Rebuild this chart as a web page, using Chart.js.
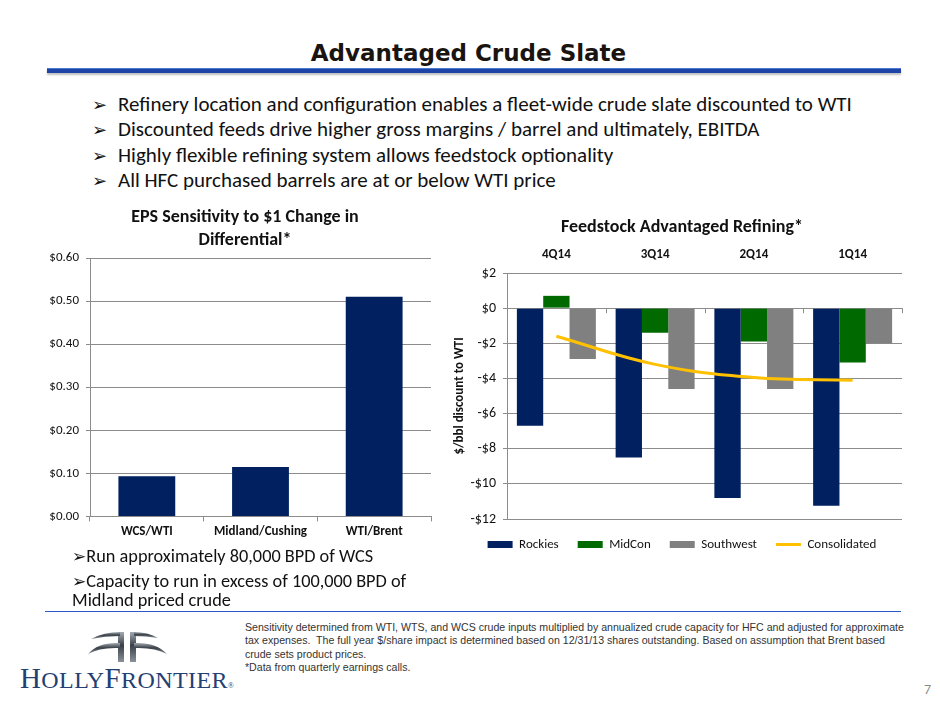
<!DOCTYPE html>
<html>
<head>
<meta charset="utf-8">
<script src="https://cdn.jsdelivr.net/npm/chart.js@4.4.1/dist/chart.umd.min.js"></script>
<style>
  body { margin: 0; background: #fff; }
  #page { position: relative; width: 940px; height: 705px; overflow: hidden; font-family: Carlito, Calibri, Lato, sans-serif; color: #111; }
  .abs { position: absolute; }
  #title { left: 0; width: 937px; top: 40px; text-align: center; font-family: "DejaVu Sans", Verdana, sans-serif; font-size: 23px; font-weight: bold; color: #1a1410; }
  #rule { left: 47px; top: 68px; width: 854px; height: 4px; background: #1d44a6; border-top: 1px solid #4a78d2; box-shadow: 0 2px 2px rgba(0,0,0,0.25); }
  .bul { left: 92px; font-size: 21px; white-space: nowrap; }
  .bul .ar { font-family: "DejaVu Sans"; font-size: 18px; display: inline-block; width: 26px; }
  .lb { left: 72px; font-size: 18.3px; white-space: nowrap; }
  .lb .ar { font-family: "DejaVu Sans"; font-size: 17px; }
  #foot { left: 45px; top: 611px; width: 856px; height: 1px; background: #2b59c8; }
  #note { left: 245px; top: 621px; width: 662px; font-family: "Liberation Sans", Arial, sans-serif; font-size: 10.6px; line-height: 13.4px; color: #333; }
  #brand { left: 20px; top: 664px; line-height: 29px; font-family: "Liberation Serif", "DejaVu Serif", serif; font-size: 29px; letter-spacing: 0.4px; color: #233f73; white-space: nowrap; }
  #brand .sc { font-size: 24px; }
  #brand .r { font-size: 8px; }
  #pg { left: 924px; top: 681px; font-size: 14px; color: #888; }
  canvas { position: absolute; }
</style>
</head>
<body>
<div id="page">
  <div id="title" class="abs">Advantaged Crude Slate</div>
  <div id="rule" class="abs"></div>

  <div class="abs bul" style="top:91px"><span class="ar">➢</span>Refinery location and configuration enables a fleet-wide crude slate discounted to WTI</div>
  <div class="abs bul" style="top:116px"><span class="ar">➢</span>Discounted feeds drive higher gross margins / barrel and ultimately, EBITDA</div>
  <div class="abs bul" style="top:142px"><span class="ar">➢</span>Highly flexible refining system allows feedstock optionality</div>
  <div class="abs bul" style="top:167px"><span class="ar">➢</span>All HFC purchased barrels are at or below WTI price</div>

  <div id="leftBox" class="abs" style="left:30px; top:195px; width:430px; height:352px;"><canvas id="epsChart"></canvas></div>
  <div id="rightBox" class="abs" style="left:450px; top:195px; width:460px; height:370px;"><canvas id="feedChart"></canvas></div>

  <div class="abs lb" style="top:545px"><span class="ar">➢</span>Run approximately 80,000 BPD of WCS</div>
  <div class="abs lb" style="top:570px"><span class="ar">➢</span>Capacity to run in excess of 100,000 BPD of</div>
  <div class="abs lb" style="top:589px">Midland priced crude</div>

  <div id="foot" class="abs"></div>
  <div id="note" class="abs">Sensitivity determined from WTI, WTS, and WCS crude inputs multiplied by annualized crude capacity for HFC and adjusted for approximate tax expenses.&nbsp; The full year $/share impact is determined based on 12/31/13 shares outstanding. Based on assumption that Brent based crude sets product prices.<br>*Data from quarterly earnings calls.</div>

  <svg class="abs" style="left:80px; top:628px" width="90" height="36" viewBox="0 0 90 36">
    <defs>
      <linearGradient id="metal" x1="0" y1="0" x2="0" y2="1">
        <stop offset="0" stop-color="#a4abb2"/>
        <stop offset="0.45" stop-color="#3a4048"/>
        <stop offset="1" stop-color="#8a9198"/>
      </linearGradient>
    </defs>
    <rect x="38" y="4" width="6" height="30" fill="url(#metal)"/>
    <rect x="50" y="4" width="6" height="30" fill="url(#metal)"/>
    <path d="M11 11 Q24 4 40 4 L40 8 Q25 8 11 11 Z" fill="url(#metal)"/>
    <path d="M54 4 Q68 4 78 10 Q66 8 54 8 Z" fill="url(#metal)"/>
    <path d="M8 26 Q18 14 40 15 L40 20 Q20 19 8 26 Z" fill="url(#metal)"/>
    <path d="M54 15 Q76 14 87 26 Q74 19 54 20 Z" fill="url(#metal)"/>
  </svg>
  <div id="brand" class="abs">H<span class="sc">OLLY</span>F<span class="sc">RONTIER</span><span class="r">®</span></div>
  <div id="pg" class="abs">7</div>
</div>

<script>
// --- EPS 敏感度 (left chart) ---
const epsCategories = ['WCS/WTI', 'Midland/Cushing', 'WTI/Brent'];
const epsValues = [0.093, 0.115, 0.51];

// --- Feedstock advantaged refining (right chart) ---
const quarters = ['4Q14', '3Q14', '2Q14', '1Q14'];
const rockies = [-6.7, -8.5, -10.8, -11.25];
const midcon = [0.7, -1.4, -1.9, -3.1];
const southwest = [-2.9, -4.6, -4.6, -2.0];
const consolidated = [-1.6, -3.2, -3.95, -4.1];

const FONT = 'Carlito, Calibri, Lato, sans-serif';
const GRID = '#8c8c8c';

Chart.defaults.font.family = FONT;
Chart.defaults.color = '#111';
Chart.defaults.animation = false;

new Chart(document.getElementById('epsChart'), {
  type: 'bar',
  data: {
    labels: epsCategories,
    datasets: [{
      label: 'EPS',
      data: epsValues,
      backgroundColor: '#002060',
      categoryPercentage: 0.5,
      barPercentage: 1.0
    }]
  },
  options: {
    responsive: true,
    maintainAspectRatio: false,
    layout: { padding: { left: 0, right: 0, top: 0, bottom: 4 } },
    plugins: {
      legend: { display: false },
      tooltip: { enabled: false },
      title: {
        display: true,
        text: ['EPS Sensitivity to $1 Change in', 'Differential*'],
        font: { size: 18, weight: 'bold', lineHeight: 1.28 },
        color: '#111',
        padding: { top: 11, bottom: 6 }
      }
    },
    scales: {
      x: {
        grid: { display: true, drawOnChartArea: false, tickLength: 5, color: GRID, offset: true },
        border: { color: GRID, width: 1 },
        ticks: { font: { size: 13, weight: 'bold' }, color: '#111', padding: 3 }
      },
      y: {
        min: 0, max: 0.6,
        afterFit: (s) => { s.width = 60; },
        grid: { color: GRID, tickLength: 4 },
        border: { color: GRID, width: 1 },
        ticks: {
          stepSize: 0.1,
          font: { size: 13 },
          color: '#111',
          padding: 7,
          callback: (v) => '$' + Number(v).toFixed(2)
        }
      },
      // 右側空白軸：只佔位，讓標題置中於整張畫布
      spacer: {
        position: 'right',
        afterFit: (s) => { s.width = 29; },
        grid: { display: false },
        border: { display: false },
        ticks: { display: false }
      }
    }
  }
});

// 零線上的刻度 (tick marks on the $0 line)
const zeroTicks = {
  id: 'zeroTicks',
  afterDatasetsDraw(chart) {
    const x = chart.scales.x, y = chart.scales.y;
    const y0 = y.getPixelForValue(0);
    const ctx = chart.ctx;
    ctx.save();
    ctx.strokeStyle = GRID;
    ctx.lineWidth = 1;
    for (let i = 0; i <= quarters.length; i++) {
      let px;
      if (i === 0) px = x.left;
      else if (i === quarters.length) px = x.right;
      else px = (x.getPixelForValue(i - 1) + x.getPixelForValue(i)) / 2;
      ctx.beginPath();
      ctx.moveTo(Math.round(px) + 0.5, y0);
      ctx.lineTo(Math.round(px) + 0.5, y0 + 5);
      ctx.stroke();
    }
    ctx.restore();
  }
};

new Chart(document.getElementById('feedChart'), {
  type: 'bar',
  data: {
    labels: quarters,
    datasets: [
      { label: 'Rockies', data: rockies, backgroundColor: '#002060', pointStyle: 'rect' },
      { label: 'MidCon', data: midcon, backgroundColor: '#006a00', pointStyle: 'rect' },
      { label: 'Southwest', data: southwest, backgroundColor: '#808080', pointStyle: 'rect' },
      {
        type: 'line', label: 'Consolidated', data: consolidated,
        borderColor: '#ffc000', backgroundColor: '#ffc000', borderWidth: 3,
        tension: 0.4, pointRadius: 0, pointStyle: 'line', order: -1
      }
    ]
  },
  options: {
    responsive: true,
    maintainAspectRatio: false,
    datasets: { bar: { categoryPercentage: 0.8, barPercentage: 1.0 } },
    layout: { padding: { left: 12, right: 8, top: 0, bottom: 4 } },
    plugins: {
      tooltip: { enabled: false },
      title: {
        display: true,
        text: 'Feedstock Advantaged Refining*',
        font: { size: 18, weight: 'bold', lineHeight: 1.3 },
        color: '#111',
        padding: { top: 21, bottom: -2 }
      },
      legend: {
        position: 'bottom',
        labels: {
          usePointStyle: true,
          pointStyleWidth: 25,
          boxHeight: 7,
          padding: 19,
          font: { size: 13 },
          color: '#111',
          sort: (a, b) => a.datasetIndex - b.datasetIndex
        }
      }
    },
    scales: {
      x: {
        position: 'top',
        grid: { display: false, drawTicks: false },
        border: { display: false },
        ticks: { font: { size: 13, weight: 'bold' }, color: '#111', padding: 10 }
      },
      y: {
        min: -12, max: 2,
        afterFit: (s) => { s.width = 45; },
        grid: { color: GRID, tickLength: 4 },
        border: { color: GRID, width: 1 },
        title: {
          display: true,
          text: '$/bbl discount to WTI',
          font: { size: 13, weight: 'bold' },
          color: '#111',
          padding: { top: -10, bottom: 2 }
        },
        ticks: {
          stepSize: 2,
          font: { size: 14 },
          color: '#111',
          padding: 7,
          callback: (v) => (v < 0 ? '-$' + Math.abs(v) : '$' + v)
        }
      }
    }
  },
  plugins: [zeroTicks]
});
</script>
</body>
</html>
